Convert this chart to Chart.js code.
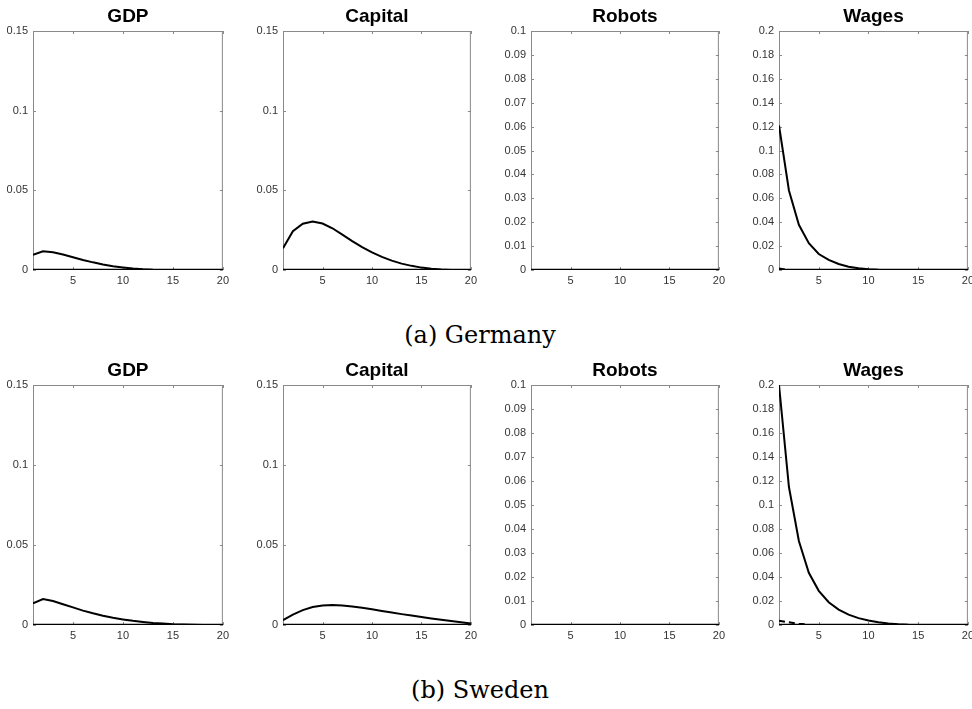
<!DOCTYPE html>
<html>
<head>
<meta charset="utf-8">
<script src="https://cdn.jsdelivr.net/npm/chart.js@4.4.1/dist/chart.umd.min.js"></script>
<style>
  html, body { margin: 0; padding: 0; background: #fff; overflow: hidden; }
  #page { position: relative; width: 972px; height: 709px; }
  canvas { position: absolute; }
  .caption {
    position: absolute; left: 0; width: 960px; text-align: center;
    font-family: 'DejaVu Serif', serif; font-size: 24px; line-height: 30px; color: #000;
  }
</style>
</head>
<body>
<div id="page">
  <div class="caption" style="top:320px">(a) Germany</div>
  <div class="caption" style="top:675px">(b) Sweden</div>
</div>
<script>
// periods on the x axis
const periods = [1, 2, 3, 4, 5, 6, 7, 8, 9, 10, 11, 12, 13, 14, 15, 16, 17, 18, 19, 20];
const xTicks = [5, 10, 15, 20];

// y tick labels per variable
const ticksGdp = [0, 0.05, 0.1, 0.15];
const ticksCapital = [0, 0.05, 0.1, 0.15];
const ticksRobots = [0, 0.01, 0.02, 0.03, 0.04, 0.05, 0.06, 0.07, 0.08, 0.09, 0.1];
const ticksWages = [0, 0.02, 0.04, 0.06, 0.08, 0.1, 0.12, 0.14, 0.16, 0.18, 0.2];

// zero reference line
const zeros = [0, 0, 0, 0, 0, 0, 0, 0, 0, 0, 0, 0, 0, 0, 0, 0, 0, 0, 0, 0];

// Germany
const deGdp = [0.0095, 0.0118, 0.0112, 0.0097, 0.0080, 0.0063, 0.0048, 0.0035, 0.0024, 0.0016, 0.0009, 0.0004, 0.0001, 0, 0, 0, 0, 0, 0, 0];
const deCapital = [0.0136, 0.0243, 0.0290, 0.0305, 0.0292, 0.0262, 0.0222, 0.0181, 0.0143, 0.0110, 0.0082, 0.0059, 0.0040, 0.0026, 0.0015, 0.0008, 0.0003, 0, 0, 0];
const deRobots = [0, 0, 0, 0, 0, 0, 0, 0, 0, 0, 0, 0, 0, 0, 0, 0, 0, 0, 0, 0];
const deWages = [0.121, 0.0666, 0.0378, 0.0224, 0.0134, 0.0084, 0.0050, 0.0028, 0.0014, 0.0006, 0.0002, 0, 0, 0, 0, 0, 0, 0, 0, 0];
const deWagesDash = [0.0012, 0, 0, 0, 0, 0, 0, 0, 0, 0, 0, 0, 0, 0, 0, 0, 0, 0, 0, 0];

// Sweden
const seGdp = [0.0135, 0.0162, 0.0150, 0.0130, 0.0110, 0.0090, 0.0073, 0.0058, 0.0045, 0.0035, 0.0026, 0.0019, 0.0013, 0.0009, 0.0005, 0.0003, 0.0001, 0, 0, 0];
const seCapital = [0.0030, 0.0065, 0.0093, 0.0112, 0.0122, 0.0125, 0.0122, 0.0116, 0.0108, 0.0098, 0.0088, 0.0078, 0.0068, 0.0059, 0.0050, 0.0041, 0.0033, 0.0025, 0.0017, 0.0010];
const seRobots = [0, 0, 0, 0, 0, 0, 0, 0, 0, 0, 0, 0, 0, 0, 0, 0, 0, 0, 0, 0];
const seWages = [0.200, 0.115, 0.070, 0.0435, 0.0285, 0.0190, 0.0128, 0.0086, 0.0057, 0.0037, 0.0023, 0.0013, 0.0006, 0.0002, 0, 0, 0, 0, 0, 0];
const seWagesDash = [0.0035, 0.0022, 0.0010, 0.0002, 0, 0, 0, 0, 0, 0, 0, 0, 0, 0, 0, 0, 0, 0, 0, 0];

Chart.defaults.font.family = "'Liberation Sans', Arial, Helvetica, sans-serif";

const Y_W = 40;      // y axis box width
const X_H = 22;      // x axis box height
const TITLE_H = 24;  // title box height

// MATLAB-like box with inward ticks on all four sides
const frameTicks = {
  id: 'frameTicks',
  beforeDatasetsDraw(chart) {
    const { ctx, chartArea: a, scales: { x, y } } = chart;
    ctx.save();
    ctx.strokeStyle = '#8a8a8a';
    ctx.lineWidth = 1;
    ctx.strokeRect(a.left + 0.5, a.top + 0.5, a.right - a.left - 1, a.bottom - a.top - 1);
    ctx.beginPath();
    x.ticks.forEach(t => {
      const px = Math.round(x.getPixelForValue(t.value)) + 0.5;
      ctx.moveTo(px, a.bottom); ctx.lineTo(px, a.bottom - 3);
      ctx.moveTo(px, a.top); ctx.lineTo(px, a.top + 3);
    });
    y.ticks.forEach(t => {
      const py = Math.round(y.getPixelForValue(t.value)) + 0.5;
      ctx.moveTo(a.left, py); ctx.lineTo(a.left + 3, py);
      ctx.moveTo(a.right, py); ctx.lineTo(a.right - 3, py);
    });
    ctx.stroke();
    ctx.restore();
  }
};

function toXY(vals) {
  return periods.map((p, i) => ({ x: p, y: vals[i] }));
}

function panel(title, yTicks, main, dash, box) {
  const cv = document.createElement('canvas');
  const w = box.w + Y_W + 10;
  const h = box.h + TITLE_H + X_H;
  cv.width = w; cv.height = h;
  cv.style.left = (box.x - Y_W) + 'px';
  cv.style.top = (box.y - TITLE_H) + 'px';
  cv.style.width = w + 'px';
  cv.style.height = h + 'px';
  document.getElementById('page').appendChild(cv);

  new Chart(cv, {
    type: 'line',
    data: {
      datasets: [
        { data: toXY(zeros), borderColor: '#000', borderWidth: 2.5, pointRadius: 0 },
        { data: toXY(dash), borderColor: '#000', borderWidth: 2, borderDash: [6, 4], pointRadius: 0 },
        { data: toXY(main), borderColor: '#000', borderWidth: 2, pointRadius: 0 }
      ]
    },
    options: {
      responsive: false,
      animation: false,
      layout: { padding: { top: 0, right: 10, bottom: 0, left: 0 } },
      plugins: {
        legend: { display: false },
        tooltip: { enabled: false },
        title: {
          display: true, text: title, fullSize: false, color: '#000',
          font: { size: 19, weight: 'bold', lineHeight: 1 },
          padding: { top: 0, bottom: 5 }
        }
      },
      scales: {
        x: {
          type: 'linear', min: 1, max: 20,
          grid: { display: false, drawTicks: false },
          border: { display: false },
          afterBuildTicks: s => { s.ticks = xTicks.map(v => ({ value: v })); },
          afterFit: s => { s.height = X_H; },
          ticks: { autoSkip: false, maxRotation: 0, padding: 4, color: '#333', font: { size: 11 },
                   callback: v => String(v) }
        },
        y: {
          type: 'linear', min: 0, max: yTicks[yTicks.length - 1],
          grid: { display: false, drawTicks: false },
          border: { display: false },
          afterBuildTicks: s => { s.ticks = yTicks.map(v => ({ value: v })); },
          afterFit: s => { s.width = Y_W; },
          ticks: { autoSkip: false, padding: 5, color: '#333', font: { size: 11 },
                   callback: v => String(v) }
        }
      }
    },
    plugins: [frameTicks]
  });
}

const cols = [{ x: 33, w: 190 }, { x: 283, w: 188 }, { x: 531, w: 188 }, { x: 779, w: 189 }];
const rows = [{ y: 31, h: 239 }, { y: 385, h: 240 }];

const box = (c, r) => ({ x: cols[c].x, w: cols[c].w, y: rows[r].y, h: rows[r].h });

panel('GDP', ticksGdp, deGdp, zeros, box(0, 0));
panel('Capital', ticksCapital, deCapital, zeros, box(1, 0));
panel('Robots', ticksRobots, deRobots, zeros, box(2, 0));
panel('Wages', ticksWages, deWages, deWagesDash, box(3, 0));

panel('GDP', ticksGdp, seGdp, zeros, box(0, 1));
panel('Capital', ticksCapital, seCapital, zeros, box(1, 1));
panel('Robots', ticksRobots, seRobots, zeros, box(2, 1));
panel('Wages', ticksWages, seWages, seWagesDash, box(3, 1));
</script>
</body>
</html>
